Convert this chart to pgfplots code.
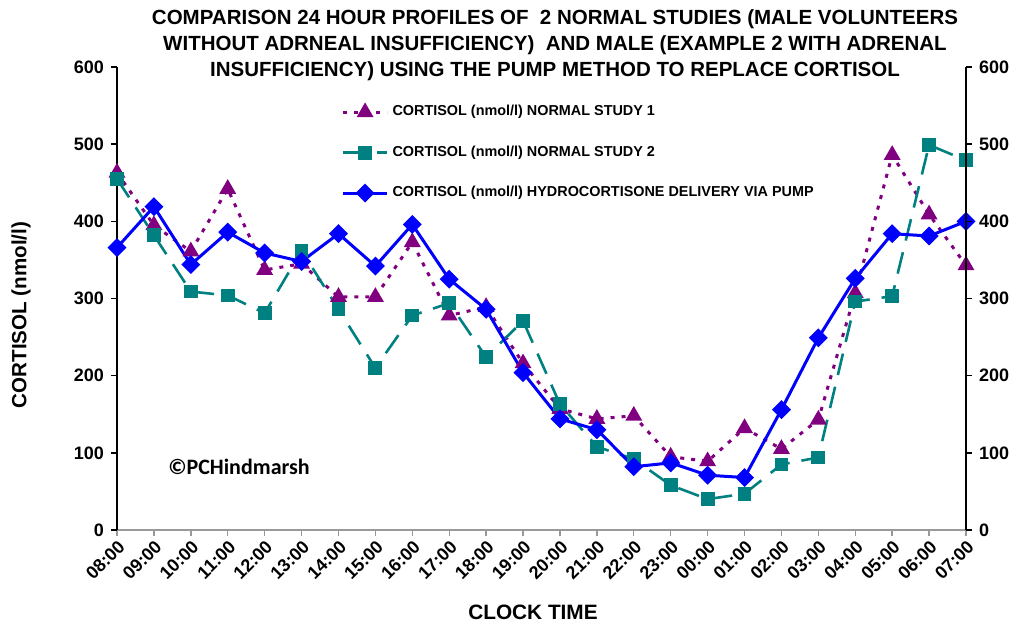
\documentclass[border=0pt]{standalone}
\usepackage{fontspec}
\setmainfont{Liberation Sans}
\newfontfamily\carlito{Carlito}
\usepackage{pgfplots}
\usepackage{pgfplotstable}
\pgfplotsset{compat=1.18}
\definecolor{cpurple}{RGB}{128,0,128}
\definecolor{cteal}{RGB}{0,128,128}
\definecolor{cblue}{RGB}{0,0,255}

% hour index 0 = 08:00 ... 23 = 07:00
\pgfplotstableread{
h s1 s2 s3
0 463 455 366
1 395 382 419
2 361 309 344
3 442 304 386
4 337 281 359
5 345 362 348
6 302 286 384
7 302 210 342
8 373 278 396
9 278 294 325
10 289 224 286
11 216 271 204
12 157 163 144
13 144 108 130
14 148 92 82
15 95 58 87
16 89 40 71
17 132 47 68
18 105 85 156
19 143 94 249
20 307 296 326
21 486 303 384
22 409 499 381
23 343 479 400
}\cortisol

\pgfplotsset{
  common/.style={
    at={(58.5pt,46.5pt)}, anchor=south west,
    width=424.5pt, height=231.5pt, scale only axis,
    xmin=0, xmax=23, ymin=0, ymax=600,
    ytick={0,100,...,600},
    tick align=outside, major tick length=3pt,
    /pgf/number format/assume math mode=true,
    yticklabel style={font=\bfseries\fontsize{9}{9}\selectfont},
    y axis line style={black, line width=0.8pt},
    ytick style={black, line width=0.8pt},
  }
}

\begin{document}
\begin{tikzpicture}
\path[use as bounding box] (0,0) rectangle (506.5pt,311.5pt);
\begin{axis}[
  common,
  axis x line*=bottom, axis y line*=left,
  x axis line style={draw=gray!80, line width=0.7pt},
  xtick style={draw=gray!80, line width=0.7pt},
  xtick={0,...,23},
  xticklabels={08:00,09:00,10:00,11:00,12:00,13:00,14:00,15:00,16:00,17:00,18:00,19:00,20:00,21:00,22:00,23:00,00:00,01:00,02:00,03:00,04:00,05:00,06:00,07:00},
  xticklabel style={rotate=45, anchor=north east, inner sep=1pt, font=\bfseries\fontsize{9}{9}\selectfont},
  legend style={at={(0.257,0.935)}, anchor=north west, draw=none, fill=none,
    font=\bfseries\fontsize{7.2}{8}\selectfont, row sep=9.5pt},
  legend cell align=left,
  legend image code/.code={\draw[mark repeat=2, mark phase=2, #1] plot coordinates {(0pt,0pt) (11pt,0pt) (22pt,0pt)};},
]
\addplot[cpurple, line width=1.5pt, dash pattern=on 2pt off 3.5pt,
  mark=triangle*, mark size=3.4pt, mark options={solid}] table[x=h, y=s1] {\cortisol};
\addlegendentry{CORTISOL (nmol/l) NORMAL STUDY 1}
\addplot[cteal, line width=1.3pt, dash pattern=on 11pt off 6pt,
  mark=square*, mark size=2.8pt, mark options={solid}] table[x=h, y=s2] {\cortisol};
\addlegendentry{CORTISOL (nmol/l) NORMAL STUDY 2}
\addplot[cblue, line width=1.5pt,
  mark=square*, mark size=2.6pt, mark options={solid, rotate=45}] table[x=h, y=s3] {\cortisol};
\addlegendentry{CORTISOL (nmol/l) HYDROCORTISONE DELIVERY VIA PUMP}
\end{axis}
\begin{axis}[
  common,
  axis y line*=right, axis x line=none,
]
\end{axis}
\node[align=center, font=\bfseries\fontsize{10.25}{13}\selectfont] at (277.5pt,289pt)
  {COMPARISON 24 HOUR PROFILES OF \ 2 NORMAL STUDIES (MALE VOLUNTEERS\\
   WITHOUT ADRNEAL INSUFFICIENCY) \ AND MALE (EXAMPLE 2 WITH ADRENAL\\
   INSUFFICIENCY) USING THE PUMP METHOD TO REPLACE CORTISOL};
\node[rotate=90, font=\bfseries\fontsize{10.3}{12}\selectfont] at (10.5pt,154pt) {CORTISOL (nmol/l)};
\node[font=\bfseries\fontsize{10.4}{12}\selectfont] at (266.5pt,5.5pt) {CLOCK TIME};
\node[font=\carlito\bfseries\fontsize{11}{12}\selectfont] at (119.5pt,78pt) {©PCHindmarsh};
\end{tikzpicture}
\end{document}
